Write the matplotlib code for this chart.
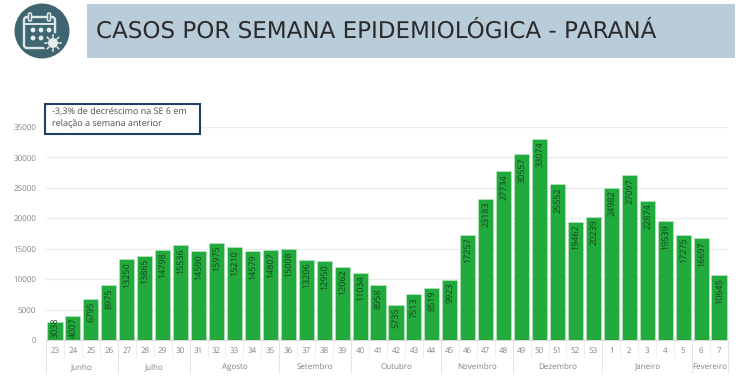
import matplotlib
matplotlib.use("Agg")
import matplotlib.pyplot as plt
from matplotlib.patches import Circle, Rectangle, FancyBboxPatch

weeks = [23,24,25,26,27,28,29,30,31,32,33,34,35,36,37,38,39,40,41,42,43,44,45,46,47,48,49,50,51,52,53,1,2,3,4,5,6,7]
cases = [3038,4007,6795,8975,13250,13865,14798,15536,14590,15975,15210,14579,14807,15008,13206,12950,12062,
         11034,8958,5735,7513,8519,9923,17257,23183,27734,30557,33074,25552,19462,20239,24982,27097,22874,
         19539,17275,16697,10645]
months = ["Junho","Julho","Agosto","Setembro","Outubro","Novembro","Dezembro","Janeiro","Fevereiro"]
month_sizes = [4,4,5,4,5,4,5,5,2]
yticks = [0,5000,10000,15000,20000,25000,30000,35000]
title = "CASOS POR SEMANA EPIDEMIOLÓGICA - PARANÁ"
note = "-3,3% de decréscimo na SE 6 em\nrelação a semana anterior"

plt.rcParams["text.hinting"] = "none"
plt.rcParams["text.hinting_factor"] = 1
W, H = 750, 385
fig = plt.figure(figsize=(W/100, H/100), dpi=100, facecolor="white")
plt.rcParams["font.family"] = ["Open Sans", "DejaVu Sans"]

ov = fig.add_axes([0, 0, 1, 1], zorder=3)
ov.set_xlim(0, W); ov.set_ylim(H, 0); ov.axis("off"); ov.patch.set_alpha(0)

ov.add_patch(Rectangle((87, 4), 648, 54, fc="#B8CCD9", ec="none"))
ov.text(96, 31, title, fontsize=16.3, color="#2B2B2B", va="center", ha="left", family=["DejaVu Sans"])

teal = "#3F6670"
ov.add_patch(Circle((42, 31), 27.5, fc=teal, ec="none"))
ov.add_patch(FancyBboxPatch((24, 17), 31, 31, boxstyle="round,pad=0,rounding_size=3", fc="none", ec="#DDE7EA", lw=1.7))
ov.plot([24, 55], [24, 24], color="#DDE7EA", lw=1.4)
for x in (30, 49):
    ov.add_patch(FancyBboxPatch((x-1.5, 13), 3, 8, boxstyle="round,pad=0,rounding_size=1.2", fc=teal, ec="#DDE7EA", lw=1.1))
for cx in (33, 41, 49):
    ov.add_patch(Circle((cx, 30), 2.4, fc="#E6EEF0", ec="none"))
for cx in (33, 41):
    ov.add_patch(Circle((cx, 38), 2.4, fc="#E6EEF0", ec="none"))
ov.add_patch(Circle((53, 43), 10, fc=teal, ec="none"))
ov.add_patch(Circle((53, 43), 5, fc="#E6EEF0", ec="none"))
for dx, dy in [(8,0),(-8,0),(0,8),(0,-8),(5.6,5.6),(-5.6,5.6),(5.6,-5.6),(-5.6,-5.6)]:
    ov.plot([53+dx*0.75, 53+dx], [43+dy*0.75, 43+dy], color="#E6EEF0", lw=1.1)

ov.add_patch(Rectangle((45, 103.5), 155, 30, fc="white", ec="#1F3F66", lw=1.5))
ov.text(52, 118.5, note, fontsize=6.3, color="#4A4A4A", va="center", ha="left", linespacing=1.3)

ax = fig.add_axes([46/W, (H-340)/H, (728-46)/W, (340-127)/H], zorder=2)
ax.patch.set_alpha(0)
xs = list(range(len(cases)))
ax.set_axisbelow(True)
ax.yaxis.grid(True, color="#EBEBEB", lw=0.8)
ax.bar(xs, cases, width=0.84, color="#22AB3C", edgecolor="#BFE6C8", linewidth=0.4, zorder=2)
ax.set_xlim(-0.5, len(cases)-0.5)
ax.set_ylim(0, 35000)
ax.set_yticks(yticks)
ax.set_yticklabels([str(v) for v in yticks], fontsize=5.8, color="#808080")
ax.tick_params(axis="y", length=0, pad=7)
ax.set_xticks([])
for s in ("top", "right", "left"):
    ax.spines[s].set_visible(False)
ax.spines["bottom"].set_color("#D8D8D8")
ax.spines["bottom"].set_linewidth(0.7)

for x, v in zip(xs, cases):
    ax.annotate(str(v), (x, max(v, 4100)), xytext=(0.3, -2), textcoords="offset points",
                rotation=90, ha="center", va="top", fontsize=6.4, color="#143F20", zorder=4)

trans = ax.get_xaxis_transform()
def ypx(p):
    return -(p-340)/(340-127)
for x, w in zip(xs, weeks):
    ax.text(x, ypx(350.5), str(w), transform=trans, ha="center", va="center", fontsize=6, color="#808080", clip_on=False)
for i in range(len(cases)+1):
    ax.plot([i-0.5, i-0.5], [0, ypx(357)], transform=trans, color="#EBEBEB", lw=0.6, clip_on=False)
start = 0
for m, n in zip(months, month_sizes):
    ax.text(start + n/2 - 0.5, ypx(367), m, transform=trans, ha="center", va="center", fontsize=5.9, color="#808080", clip_on=False)
    ax.plot([start-0.5, start-0.5], [0, ypx(373)], transform=trans, color="#E2E2E2", lw=0.6, clip_on=False)
    start += n
ax.plot([start-0.5, start-0.5], [0, ypx(373)], transform=trans, color="#E2E2E2", lw=0.6, clip_on=False)

fig.savefig("out.png", dpi=100, facecolor="white")
